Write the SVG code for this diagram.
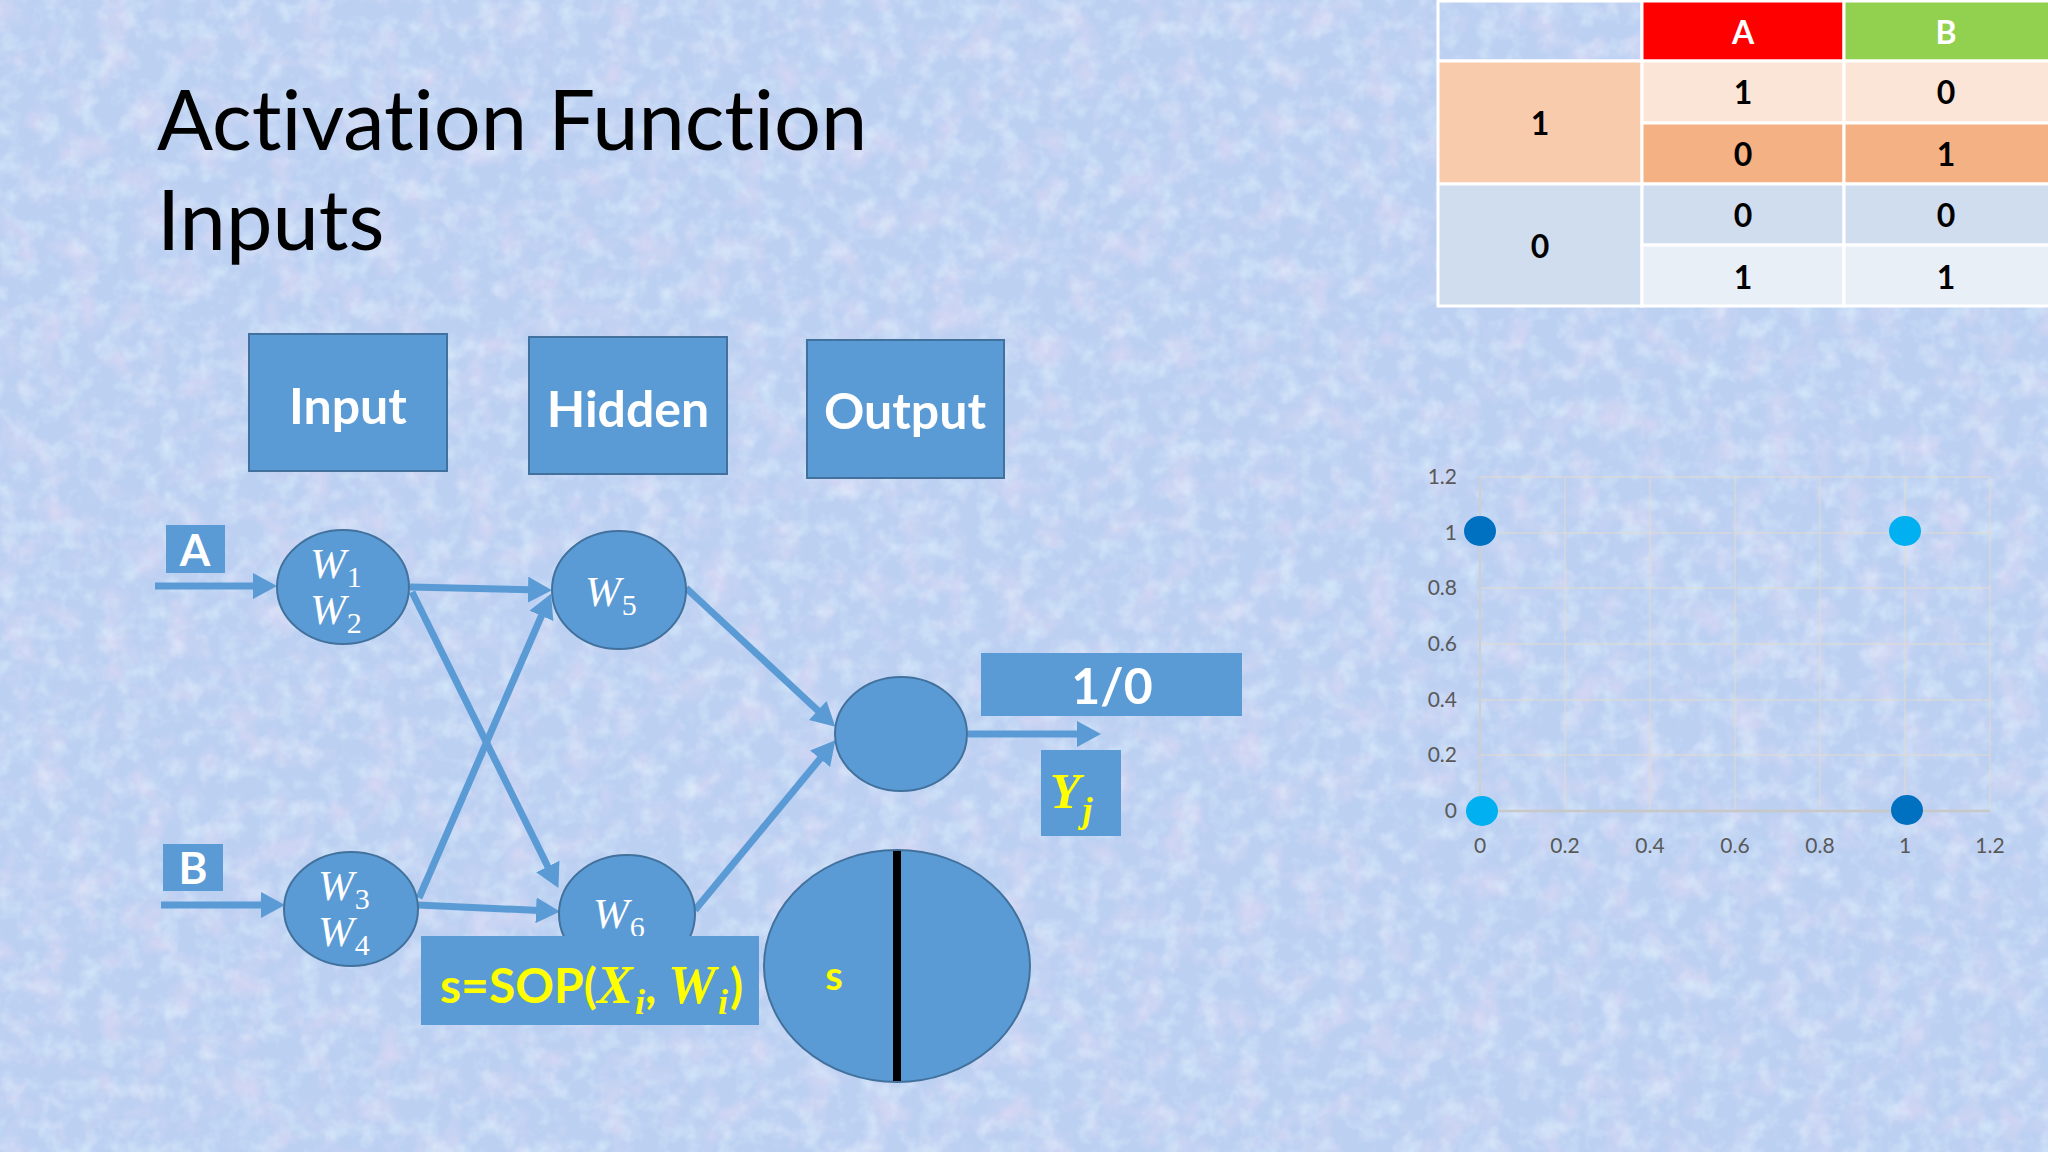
<svg xmlns="http://www.w3.org/2000/svg" width="2048" height="1152" viewBox="0 0 2048 1152">
<style>
text{font-variant-ligatures:none}
.box{fill:#5B9BD5;stroke:#41719C;stroke-width:2}
.flat{fill:#5B9BD5}
.node{fill:#5B9BD5;stroke:#41719C;stroke-width:2}
.lbl{font-family:Lato,"Open Sans",sans-serif;font-weight:bold;fill:#fff;text-anchor:middle}
.title{font-family:Lato,"Open Sans",sans-serif;font-size:83px;fill:#000}
.m{font-family:"Liberation Serif","DejaVu Serif",serif;font-style:italic;font-size:43px;fill:#fff}
.sub{font-style:normal;font-size:30px}
.conn{stroke:#5B9BD5;stroke-width:7;fill:none;marker-end:url(#ah)}
.tcell{stroke:#fff;stroke-width:3}
.tt{font-family:Lato,"Open Sans",sans-serif;font-weight:bold;font-size:32px;fill:#000;text-anchor:middle}
.th{font-family:Lato,"Open Sans",sans-serif;font-weight:bold;font-size:32px;fill:#fff;text-anchor:middle}
.ax{font-family:Lato,"Open Sans",sans-serif;font-size:21px;fill:#595959}
.grid{stroke:#E6DCCB;stroke-width:1.5;opacity:0.6}
.yel{fill:#FFFF00}
</style>
<defs>
<marker id="ah" markerUnits="userSpaceOnUse" viewBox="0 0 24 26" markerWidth="24" markerHeight="26" refX="14" refY="13" orient="auto">
<path d="M0,0 L24,13 L0,26 z" fill="#5B9BD5"/>
</marker>
<filter id="n1" x="0" y="0" width="100%" height="100%">
<feTurbulence type="fractalNoise" baseFrequency="0.03" numOctaves="3" seed="4"/>
<feColorMatrix type="matrix" values="0 0 0 0 0.93  0 0 0 0 0.75  0 0 0 0 0.92  1.8 0 0 0 -0.85"/>
</filter>
<filter id="n2" x="0" y="0" width="100%" height="100%">
<feTurbulence type="fractalNoise" baseFrequency="0.05" numOctaves="3" seed="9"/>
<feColorMatrix type="matrix" values="0 0 0 0 0.80  0 0 0 0 0.95  0 0 0 0 1  0 1.8 0 0 -0.8"/>
</filter>
</defs>

<g id="background">
<rect x="0" y="0" width="2048" height="1152" fill="#BCD0F2"/>
<rect x="0" y="0" width="2048" height="1152" filter="url(#n1)" opacity="0.55"/>
<rect x="0" y="0" width="2048" height="1152" filter="url(#n2)" opacity="0.6"/>
</g>

<g id="title">
<text class="title" x="157" y="150">Activation Function</text>
<text class="title" x="157" y="250">Inputs</text>
</g>

<g id="layer-input"><rect class="box" x="249" y="334" width="198" height="137"/><text class="lbl" x="348" y="424" font-size="50">Input</text></g>
<g id="layer-hidden"><rect class="box" x="529" y="337" width="198" height="137"/><text class="lbl" x="628" y="427" font-size="50">Hidden</text></g>
<g id="layer-output"><rect class="box" x="807" y="340" width="197" height="138"/><text class="lbl" x="905" y="429" font-size="50">Output</text></g>

<g id="label-A"><rect class="flat" x="166" y="525" width="59" height="48"/><text class="lbl" x="195" y="566" font-size="44">A</text></g>
<g id="label-B"><rect class="flat" x="163" y="844" width="60" height="47"/><text class="lbl" x="193" y="884" font-size="44">B</text></g>

<g id="connectors">
<line class="conn" x1="155" y1="586" x2="267" y2="586"/>
<line class="conn" x1="161" y1="905" x2="275" y2="905"/>
<line class="conn" x1="410" y1="587" x2="542" y2="590"/>
<line class="conn" x1="412" y1="592" x2="554" y2="879"/>
<line class="conn" x1="419" y1="898" x2="547" y2="603"/>
<line class="conn" x1="418" y1="905" x2="550" y2="911"/>
<line class="conn" x1="686" y1="588" x2="828" y2="720"/>
<line class="conn" x1="695" y1="910" x2="829" y2="748"/>
<line class="conn" x1="968" y1="734" x2="1091" y2="734"/>
</g>

<g id="node-w12"><ellipse class="node" cx="343" cy="587" rx="66" ry="57"/>
<text class="m" x="310" y="578">W<tspan class="sub" dx="1" dy="9">1</tspan></text>
<text class="m" x="310" y="624">W<tspan class="sub" dx="1" dy="9">2</tspan></text></g>
<g id="node-w5"><ellipse class="node" cx="619" cy="590" rx="67" ry="59"/>
<text class="m" x="585" y="606">W<tspan class="sub" dx="1" dy="9">5</tspan></text></g>
<g id="node-w34"><ellipse class="node" cx="351" cy="909" rx="67" ry="57"/>
<text class="m" x="318" y="900">W<tspan class="sub" dx="1" dy="9">3</tspan></text>
<text class="m" x="318" y="946">W<tspan class="sub" dx="1" dy="9">4</tspan></text></g>
<g id="node-w6"><ellipse class="node" cx="627" cy="914" rx="68" ry="59"/>
<text class="m" x="593" y="928">W<tspan class="sub" dx="1" dy="9">6</tspan></text></g>
<g id="node-out"><ellipse class="node" cx="901" cy="734" rx="66" ry="57"/></g>

<g id="sop"><rect class="flat" x="421" y="936" width="338" height="89"/>
<text x="440" y="1003" font-family="Lato,'Open Sans',sans-serif" font-weight="bold" font-size="48" class="yel">s=SOP(<tspan font-family="'Liberation Serif',serif" font-style="italic" font-size="54">X</tspan><tspan font-family="'Liberation Serif',serif" font-style="italic" font-size="36" dy="11" dx="2">i</tspan><tspan dy="-11">, </tspan><tspan font-family="'Liberation Serif',serif" font-style="italic" font-size="54">W</tspan><tspan font-family="'Liberation Serif',serif" font-style="italic" font-size="36" dy="11" dx="2">i</tspan><tspan dy="-11" dx="2">)</tspan></text></g>

<g id="activation"><ellipse class="node" cx="897" cy="966" rx="133" ry="116"/>
<line x1="897" y1="851" x2="897" y2="1081" stroke="#000" stroke-width="8"/>
<text x="834" y="990" font-family="Lato,'Open Sans',sans-serif" font-weight="bold" font-size="40" class="yel" text-anchor="middle">s</text></g>

<g id="result"><rect class="flat" x="981" y="653" width="261" height="63"/>
<text class="lbl" x="1112" y="704" font-size="50">1/0</text></g>

<g id="yj"><rect class="flat" x="1041" y="750" width="80" height="86"/>
<text x="1050" y="808" font-family="'Liberation Serif',serif" font-style="italic" font-weight="bold" font-size="50" class="yel">Y<tspan font-size="36" dy="14" dx="2">j</tspan></text></g>

<g id="truth-table">
<rect class="tcell" x="1438" y="1" width="204" height="60" fill="none"/>
<rect class="tcell" x="1642" y="1" width="202" height="60" fill="#FF0000"/>
<rect class="tcell" x="1844" y="1" width="206" height="60" fill="#92D050"/>
<rect class="tcell" x="1438" y="61" width="204" height="123" fill="#F8CBAD"/>
<rect class="tcell" x="1642" y="61" width="202" height="62" fill="#FBE5D6"/>
<rect class="tcell" x="1844" y="61" width="206" height="62" fill="#FBE5D6"/>
<rect class="tcell" x="1642" y="123" width="202" height="61" fill="#F4B183"/>
<rect class="tcell" x="1844" y="123" width="206" height="61" fill="#F4B183"/>
<rect class="tcell" x="1438" y="184" width="204" height="122" fill="#D0DDEE"/>
<rect class="tcell" x="1642" y="184" width="202" height="61" fill="#D0DDEE"/>
<rect class="tcell" x="1844" y="184" width="206" height="61" fill="#D0DDEE"/>
<rect class="tcell" x="1642" y="245" width="202" height="61" fill="#E9EFF7"/>
<rect class="tcell" x="1844" y="245" width="206" height="61" fill="#E9EFF7"/>
<text class="th" x="1743" y="44">A</text>
<text class="th" x="1946" y="44">B</text>
<text class="tt" x="1540" y="135">1</text>
<text class="tt" x="1540" y="258">0</text>
<text class="tt" x="1743" y="104">1</text><text class="tt" x="1946" y="104">0</text>
<text class="tt" x="1743" y="166">0</text><text class="tt" x="1946" y="166">1</text>
<text class="tt" x="1743" y="227">0</text><text class="tt" x="1946" y="227">0</text>
<text class="tt" x="1743" y="289">1</text><text class="tt" x="1946" y="289">1</text>
</g>

<g id="chart">
<g class="grid">
<line x1="1480" y1="477" x2="1990" y2="477"/><line x1="1480" y1="533" x2="1990" y2="533"/>
<line x1="1480" y1="588" x2="1990" y2="588"/><line x1="1480" y1="644" x2="1990" y2="644"/>
<line x1="1480" y1="700" x2="1990" y2="700"/><line x1="1480" y1="755" x2="1990" y2="755"/>
<line x1="1565" y1="477" x2="1565" y2="811"/><line x1="1650" y1="477" x2="1650" y2="811"/>
<line x1="1735" y1="477" x2="1735" y2="811"/><line x1="1820" y1="477" x2="1820" y2="811"/>
<line x1="1905" y1="477" x2="1905" y2="811"/><line x1="1990" y1="477" x2="1990" y2="811"/>
</g>
<line x1="1480" y1="477" x2="1480" y2="811" stroke="#CFCFCF" stroke-width="2"/>
<line x1="1480" y1="811" x2="1990" y2="811" stroke="#C8C8C8" stroke-width="2.5"/>
<g class="ax" text-anchor="end">
<text x="1457" y="484">1.2</text><text x="1457" y="540">1</text><text x="1457" y="595">0.8</text>
<text x="1457" y="651">0.6</text><text x="1457" y="707">0.4</text><text x="1457" y="762">0.2</text><text x="1457" y="818">0</text>
</g>
<g class="ax" text-anchor="middle">
<text x="1480" y="853">0</text><text x="1565" y="853">0.2</text><text x="1650" y="853">0.4</text>
<text x="1735" y="853">0.6</text><text x="1820" y="853">0.8</text><text x="1905" y="853">1</text><text x="1990" y="853">1.2</text>
</g>
<ellipse cx="1480" cy="531" rx="16" ry="15" fill="#0070C0"/>
<ellipse cx="1905" cy="531" rx="16" ry="15" fill="#00B0F0"/>
<ellipse cx="1482" cy="811" rx="16" ry="15" fill="#00B0F0"/>
<ellipse cx="1907" cy="810" rx="16" ry="15" fill="#0070C0"/>
</g>
</svg>
